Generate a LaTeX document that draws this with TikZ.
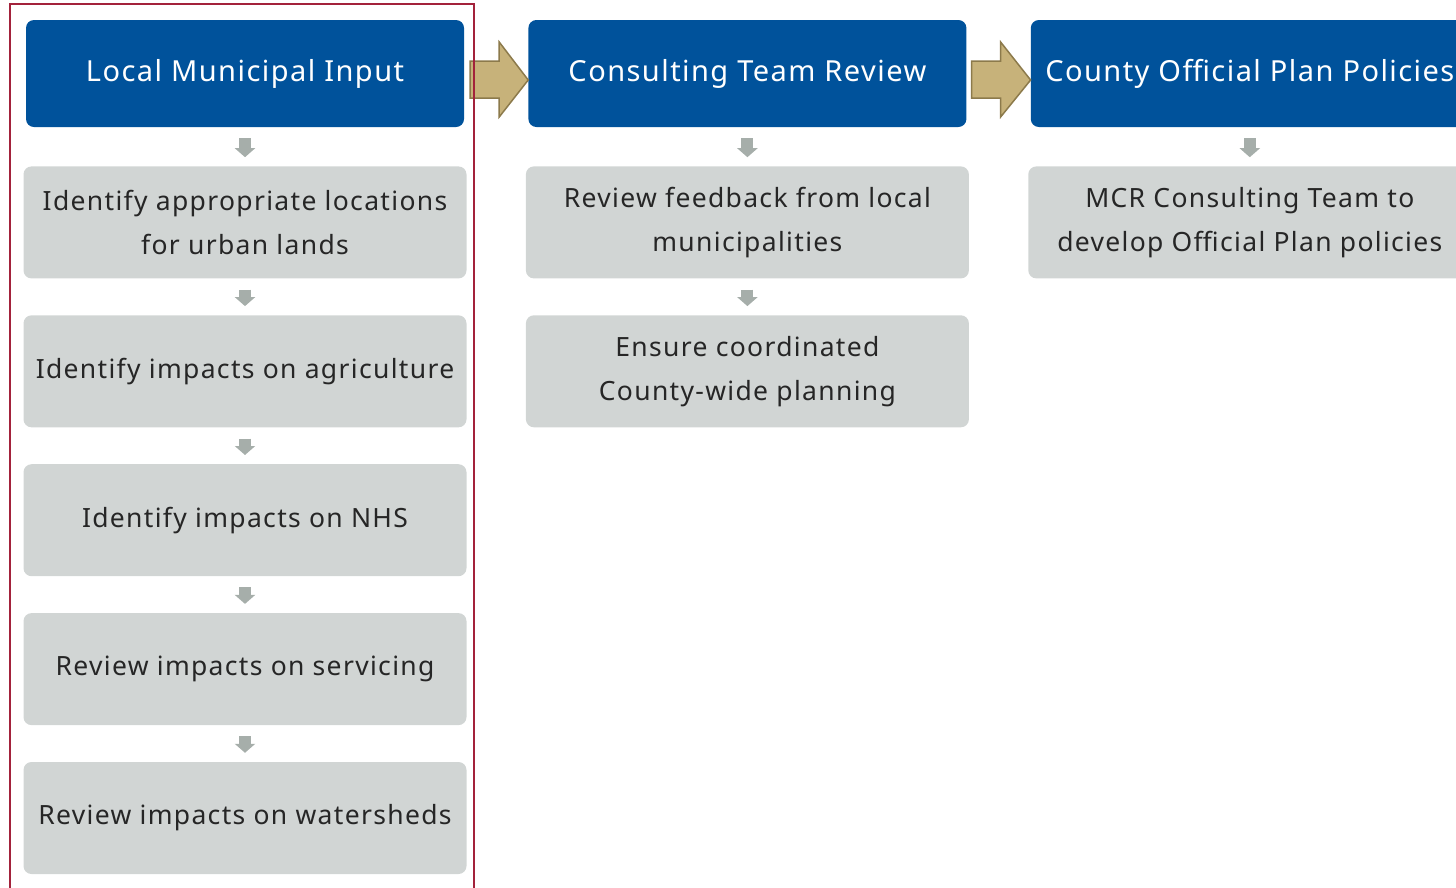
\documentclass[tikz,border=0pt]{standalone}
\usepackage{fontspec}
\setmainfont{Noto Sans}
\usepackage{xcolor}
\usetikzlibrary{positioning}
\usetikzlibrary{arrows.meta}
\usetikzlibrary{calc}

\definecolor{headblue}{HTML}{00529B}
\definecolor{taskgray}{HTML}{D1D5D4}
\definecolor{downgray}{HTML}{A6AEAA}
\definecolor{arrowtan}{HTML}{C7B27A}
\definecolor{arrowedge}{HTML}{8C7A4B}
\definecolor{framered}{HTML}{A3223B}

\begin{document}
\begin{tikzpicture}[x=1pt,y=-1pt,
                    head/.style={rectangle,rounded corners=8pt,fill=headblue,text=white,
                      minimum width=438pt,minimum height=107pt,
                      font=\fontsize{29}{34}\selectfont\addfontfeatures{LetterSpace=5}},
                    task/.style={rectangle,rounded corners=8pt,fill=taskgray,text=black!85,align=center,
                      minimum width=443pt,minimum height=112pt,
                      font=\fontsize{26.5}{44}\selectfont\addfontfeatures{LetterSpace=5}},
                    down/.style={draw=downgray,line width=12pt,-{Triangle[width=20pt,length=9pt]},
                      shorten <=11pt,shorten >=9pt},
                    big/.style={fill=arrowtan,draw=arrowedge,line width=1.5pt}]
\useasboundingbox (0,0) rectangle (1456,887);
\clip (0,0) rectangle (1456,887);

\node[head] (lmi) at (245,73.5) {Local Municipal Input};
\node[head] (ctr) [right=64pt of lmi] {Consulting Team Review};
\node[head] (cop) [right=64pt of ctr] {County Official Plan Policies};

\node[task] (l1) [below=39pt of lmi] {Identify appropriate locations\\for urban lands};
\node[task] (l2) [below=36.5pt of l1] {Identify impacts on agriculture};
\node[task] (l3) [below=36.5pt of l2] {Identify impacts on NHS};
\node[task] (l4) [below=36.5pt of l3] {Review impacts on servicing};
\node[task] (l5) [below=36.5pt of l4] {Review impacts on watersheds};

\node[task] (c1) [below=39pt of ctr] {Review feedback from local\\municipalities};
\node[task] (c2) [below=36.5pt of c1] {Ensure coordinated\\County-wide planning};

\node[task] (p1) [below=39pt of cop] {MCR Consulting Team to\\develop Official Plan policies};

\draw[down] (lmi) -- (l1);
\draw[down] (l1) -- (l2);
\draw[down] (l2) -- (l3);
\draw[down] (l3) -- (l4);
\draw[down] (l4) -- (l5);
\draw[down] (ctr) -- (c1);
\draw[down] (c1) -- (c2);
\draw[down] (cop) -- (p1);

\filldraw[big] ($(lmi.east)+(6,-12.5)$) -- ($(ctr.west)+(-29,-12.5)$) -- ($(ctr.west)+(-29,-31.5)$)
  -- ($(ctr.west)+(0,6.5)$) -- ($(ctr.west)+(-29,43.5)$) -- ($(ctr.west)+(-29,24.5)$)
  -- ($(lmi.east)+(6,24.5)$) -- cycle;
\filldraw[big] ($(ctr.east)+(5,-12.5)$) -- ($(cop.west)+(-30,-12.5)$) -- ($(cop.west)+(-30,-31.5)$)
  -- ($(cop.west)+(0,6.5)$) -- ($(cop.west)+(-30,43.5)$) -- ($(cop.west)+(-30,24.5)$)
  -- ($(ctr.east)+(5,24.5)$) -- cycle;

\draw[framered,line width=2.5pt] (10,4) rectangle (474,900);
\end{tikzpicture}
\end{document}
